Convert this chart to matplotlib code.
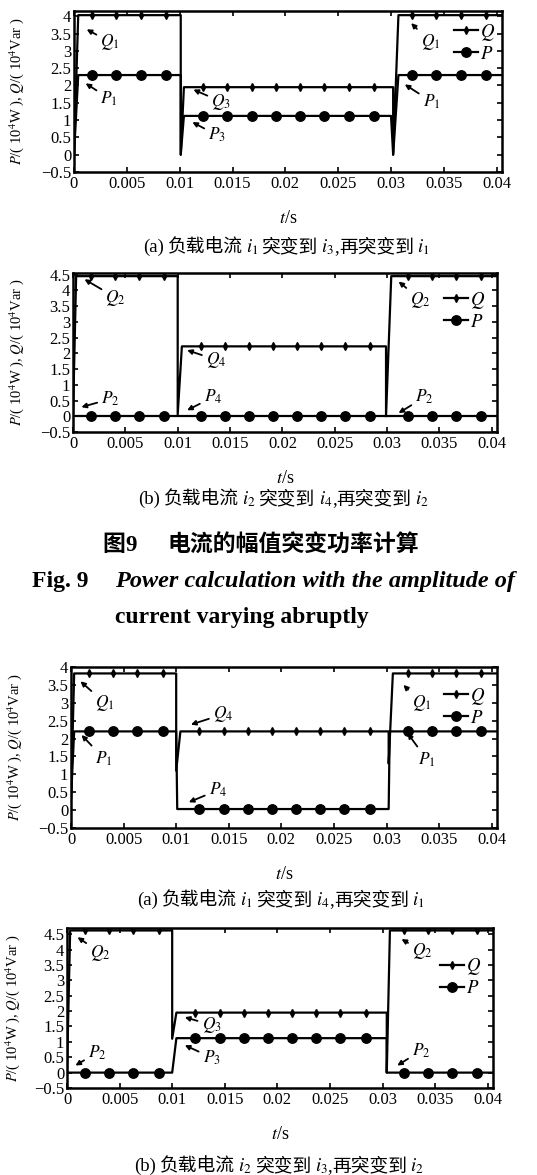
import numpy as np
import matplotlib
matplotlib.use('Agg')
import matplotlib.pyplot as plt
import matplotlib.ticker as tck
from matplotlib.lines import Line2D

plt.rcParams['font.family'] = ['Liberation Serif', 'Noto Sans CJK SC', 'DejaVu Serif']
plt.rcParams['mathtext.fontset'] = 'stix'

## ----------------------------- DATOS ----------------------------- ##
# tiempos de los marcadores (iguales en las cuatro figuras)
t_mark = [0.0017, 0.0040, 0.0063, 0.0087,
          0.0122, 0.0145, 0.0168, 0.0191, 0.0214, 0.0237, 0.0260, 0.0284,
          0.0320, 0.0343, 0.0366, 0.0390]

# (a) i1 -> i3 -> i1
q1_t = [0, 0.0004, 0.0101, 0.0101, 0.0104, 0.0302, 0.0302, 0.0307, 0.0405]
q1_v = [0, 4.03, 4.03, 0.0, 1.95, 1.95, 0.0, 4.03, 4.03]
p1_t = [0, 0.0004, 0.0101, 0.0101, 0.0104, 0.0300, 0.0302, 0.0307, 0.0405]
p1_v = [0, 2.30, 2.30, 0.0, 1.12, 1.12, 0.0, 2.30, 2.30]

# (b) i2 -> i4 -> i2
q2_t = [0, 0.0003, 0.0100, 0.0100, 0.0104, 0.0299, 0.0299, 0.0304, 0.0405]
q2_v = [0, 4.45, 4.45, 0.05, 2.22, 2.22, 0.0, 4.45, 4.45]
p2_t = [0, 0.0405]
p2_v = [0.0, 0.0]

# (a) i1 -> i4 -> i1
q3_t = [0, 0.0003, 0.0100, 0.0100, 0.0104, 0.0302, 0.0302, 0.0306, 0.0405]
q3_v = [0.3, 3.82, 3.82, 1.1, 2.2, 2.2, 1.3, 3.82, 3.82]
p3_t = [0, 0.0003, 0.0100, 0.0101, 0.0302, 0.0303, 0.0405]
p3_v = [0.3, 2.2, 2.2, 0.03, 0.03, 2.2, 2.2]

# (b) i2 -> i3 -> i2
q4_t = [0, 0.0003, 0.0100, 0.0100, 0.0104, 0.0304, 0.0304, 0.0307, 0.0405]
q4_v = [0, 4.62, 4.62, 1.1, 1.95, 1.95, 0.0, 4.62, 4.62]
p4_t = [0, 0.0100, 0.0104, 0.0304, 0.0304, 0.0405]
p4_v = [0.0, 0.0, 1.12, 1.12, 0.0, 0.0]

x_ticks = [0, 0.005, 0.01, 0.015, 0.02, 0.025, 0.03, 0.035, 0.04]

fmt = tck.FuncFormatter(lambda v, p: ('%g' % round(v, 4)).replace('-', '\u2212'))

## ----------------------------- FIGURA ----------------------------- ##
W, H = 537, 1175
fig = plt.figure(figsize=[W / 100, H / 100], dpi=100)
rend = fig.canvas.get_renderer()


def caja(px_left, px_top, px_right, px_bottom):
    return [px_left / W, 1 - px_bottom / H, (px_right - px_left) / W, (px_bottom - px_top) / H]


def panel(rect, qt, qv, pt, pv, ytop, ymax_tick, notas, leg_anchor, ylab_x):
    ax = fig.add_axes(rect)
    ax.plot(qt, qv, color='k', lw=1.6)
    ax.plot(pt, pv, color='k', lw=1.6)
    ax.plot(t_mark, np.interp(t_mark, qt, qv), 'kd', ms=4)
    ax.plot(t_mark, np.interp(t_mark, pt, pv), 'ko', ms=6.8)
    ax.set_xlim(0, 0.0405)
    ax.set_ylim(-0.5, ytop)
    ax.set_xticks(x_ticks)
    ax.set_yticks(np.arange(-0.5, ymax_tick + 0.01, 0.5))
    ax.xaxis.set_major_formatter(fmt)
    ax.yaxis.set_major_formatter(fmt)
    ax.tick_params(direction='in', top=True, right=True, length=3.5, width=1.2,
                   labelsize=12, pad=3)
    ax.tick_params(axis='y', pad=2)
    for s in ax.spines.values():
        s.set_linewidth(1.8)
    ax.set_ylabel(r'$P$/( 10$^4$W ), $Q$/( 10$^4$Var )', fontsize=10.5)
    ax.yaxis.set_label_coords(ylab_x, 0.5)
    ax.set_xlabel(r'$t$/s', fontsize=13, labelpad=13)
    for lab, xt, xh in notas:
        ax.annotate(lab, xy=xh, xytext=xt, fontsize=12.5, ha='left', va='center',
                    arrowprops=dict(arrowstyle='-|>', color='k', lw=1.3,
                                    mutation_scale=7, shrinkA=1, shrinkB=0))
    hq = Line2D([], [], color='k', lw=1.6, marker='d', ms=4)
    hp = Line2D([], [], color='k', lw=1.6, marker='o', ms=6.8)
    ax.legend([hq, hp], [r'$Q$', r'$P$'], loc='upper right', bbox_to_anchor=leg_anchor,
              frameon=False, numpoints=1, handlelength=1.3, handletextpad=0.1,
              labelspacing=0.15, borderpad=0, borderaxespad=0, fontsize=13.5)
    return ax


panel(caja(74, 11, 502, 172), q1_t, q1_v, p1_t, p1_v, 4.15, 4.0,
      [(r'$Q_1$', (0.0025, 3.25), (0.0012, 3.62)),
       (r'$P_1$', (0.0025, 1.62), (0.0011, 2.06)),
       (r'$Q_3$', (0.0130, 1.53), (0.0113, 1.88)),
       (r'$P_3$', (0.0127, 0.56), (0.0112, 0.94)),
       (r'$Q_1$', (0.0328, 3.25), (0.0319, 3.80)),
       (r'$P_1$', (0.0330, 1.53), (0.0313, 2.03))],
      (0.984, 0.934), -0.112)

panel(caja(73, 273, 497, 432), q2_t, q2_v, p2_t, p2_v, 4.55, 4.5,
      [(r'$Q_2$', (0.0031, 3.77), (0.0011, 4.35)),
       (r'$P_2$', (0.0027, 0.55), (0.0008, 0.29)),
       (r'$Q_4$', (0.0127, 1.79), (0.0109, 2.10)),
       (r'$P_4$', (0.0125, 0.61), (0.0109, 0.19)),
       (r'$Q_2$', (0.0322, 3.70), (0.0311, 4.28)),
       (r'$P_2$', (0.0327, 0.61), (0.0311, 0.10))],
      (0.972, 0.893), -0.111)

panel(caja(71, 667, 497, 828), q3_t, q3_v, p3_t, p3_v, 4.0, 4.0,
      [(r'$Q_1$', (0.0023, 2.99), (0.0009, 3.60)),
       (r'$P_1$', (0.0023, 1.44), (0.0010, 2.10)),
       (r'$Q_4$', (0.0135, 2.68), (0.0114, 2.39)),
       (r'$P_4$', (0.0131, 0.56), (0.0112, 0.22)),
       (r'$Q_1$', (0.0324, 2.99), (0.0316, 3.50)),
       (r'$P_1$', (0.0330, 1.41), (0.0320, 2.15))],
      (0.972, 0.884), -0.11)

panel(caja(67, 928, 493, 1088), q4_t, q4_v, p4_t, p4_v, 4.7, 4.5,
      [(r'$Q_2$', (0.0022, 3.90), (0.0010, 4.40)),
       (r'$P_2$', (0.0020, 0.66), (0.0008, 0.23)),
       (r'$Q_3$', (0.0128, 1.55), (0.0112, 1.80)),
       (r'$P_3$', (0.0129, 0.49), (0.0112, 0.89)),
       (r'$Q_2$', (0.0328, 3.95), (0.0318, 4.34)),
       (r'$P_2$', (0.0328, 0.72), (0.0314, 0.23))],
      (0.972, 0.824), -0.106)

## ----------------------------- TEXTOS ----------------------------- ##
SERIF = ['Liberation Serif']
CJK = ['Noto Sans CJK SC']


def fila(x_px, y_px, piezas, size, ha='center', weight='normal'):
    # pone trozos de texto uno tras otro sobre la misma linea base
    objs = []
    for s, fam, gap in piezas:
        t = fig.text(0, 1 - y_px / H, s, fontsize=size, family=fam, weight=weight,
                     ha='left', va='baseline')
        objs.append((t, t.get_window_extent(rend).width + gap))
    total = sum(w for _, w in objs)
    x0 = x_px - total / 2 if ha == 'center' else x_px
    for t, w in objs:
        t.set_x(x0 / W)
        x0 += w


def subtitulo(x_px, y_px, letra, a, b):
    fila(x_px, y_px, [('(' + letra + ')', SERIF, 4), ('负载电流', CJK, 3),
                      ('$i_%s$' % a, SERIF, 4), ('突变到', CJK, 3),
                      ('$i_%s$' % b, SERIF, 0), (',', SERIF, 0),
                      ('再突变到', CJK, 3), ('$i_%s$' % a, SERIF, 0)], 13.5)


subtitulo(286, 252, 'a', '1', '3')
subtitulo(283, 504, 'b', '2', '4')
subtitulo(281, 905, 'a', '1', '4')
subtitulo(279, 1171, 'b', '2', '3')

fila(102, 551, [('图', CJK, 0), ('9', SERIF, 0)], 16.5, ha='left', weight='bold')
fig.text(167 / W, 1 - 545 / H, '电流的幅值突变功率计算', ha='left', va='center',
         fontsize=16.5, family=CJK, weight='bold')
fig.text(32 / W, 1 - 582 / H, 'Fig. 9', ha='left', va='center', fontsize=17,
         family='Liberation Serif', weight='bold')
fig.text(115 / W, 1 - 582 / H, 'Power calculation with the amplitude of', ha='left',
         va='center', fontsize=17.5, family='Liberation Serif', weight='bold', style='italic')
fig.text(115 / W, 1 - 618 / H, 'current varying abruptly', ha='left', va='center',
         fontsize=17, family='Liberation Serif', weight='bold')

plt.savefig('out.png', dpi=100)
